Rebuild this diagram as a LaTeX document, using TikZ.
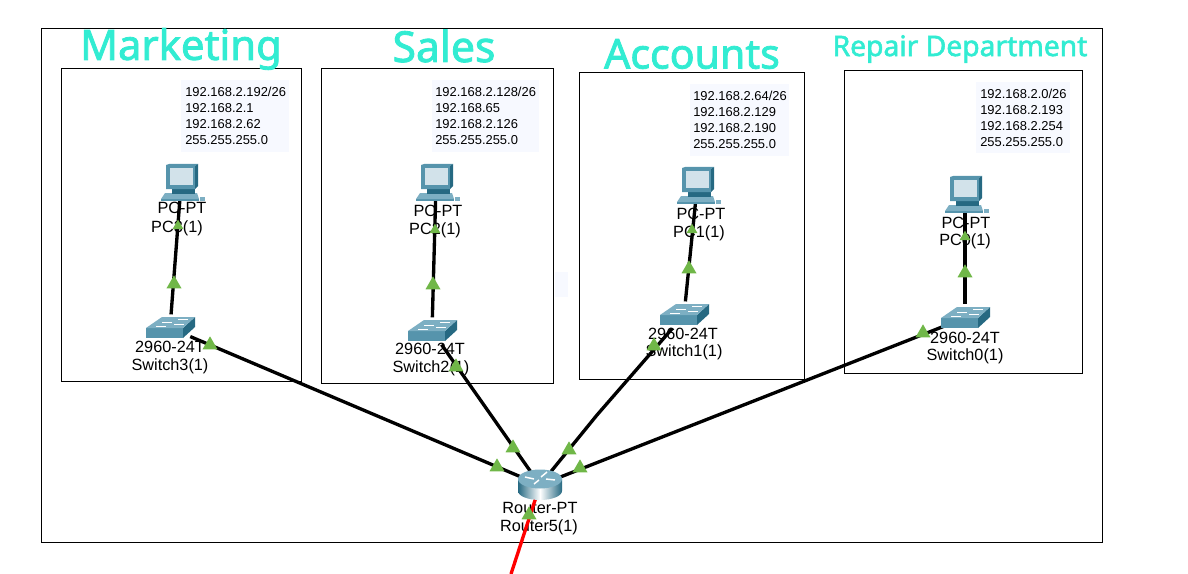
\documentclass[tikz,border=0pt]{standalone}
\usepackage{fontspec}
\setmainfont{Liberation Sans}
\newfontfamily\titlefont[FakeBold=2]{Noto Sans}
\usetikzlibrary{shapes.geometric}
\definecolor{aquatitle}{RGB}{50, 236, 210}
\definecolor{infopale}{RGB}{247, 249, 255}
\definecolor{linkgreen}{RGB}{112, 183, 72}
\definecolor{devteal}{RGB}{86, 148, 172}
\definecolor{devdark}{RGB}{38, 105, 130}
\definecolor{devlight}{RGB}{210, 226, 234}
\definecolor{devmid}{RGB}{125, 175, 195}
\tikzset{
    x=0.75pt, y=-0.75pt,
    roombox/.style   = {draw=black, line width=0.75pt},
    infobox/.style   = {fill=infopale, draw=none},
    infotext/.style  = {font=\fontsize{9.7pt}{12pt}\selectfont, align=left, anchor=north west, inner sep=0pt, yshift=-1.5pt},
    devlabel/.style  = {font=\fontsize{12.2pt}{12pt}\selectfont, inner sep=0pt, yshift=-1pt},
    roomtitle/.style = {text=aquatitle, inner sep=0pt, yshift=-3pt},
    devspot/.style   = {inner sep=0pt, minimum width=30pt, minimum height=20pt},
    linkline/.style  = {black, line width=2.5pt},
    wanline/.style   = {red, line width=2.5pt},
    linkmark/.style  = {regular polygon, regular polygon sides=3, fill=linkgreen, inner sep=0pt, minimum size=13pt},
    pcmark/.style    = {linkmark, minimum size=9.5pt},
    pcicon/.pic = {
        \fill[devmid]   (-16,  8) -- (16,  8) -- (18, 14) -- (-20, 14) -- cycle;
        \fill[devteal]  (-20, 14) rectangle (18, 16);
        \fill[devmid]   (19, 12) rectangle (24, 16);
        \fill[devdark]  (-9,  4) rectangle (14, 9);
        \fill[devteal]  (-15,-20) -- (-12,-21) -- (17,-21) -- (14,-19) -- (14, 4) -- (-15, 4) -- cycle;
        \fill[devdark]  (14,-19) -- (17,-21) -- (17, 1) -- (14, 4) -- cycle;
        \fill[devlight] (-11,-17) rectangle (12, 0);
    },
    switchicon/.pic = {
        \fill[devdark]  (13, 0) -- (25,-11) -- (25,-1) -- (13, 10) -- cycle;
        \fill[devteal]  (-24, 0) rectangle (13, 10);
        \fill[devmid]   (-24, 0) -- (-8,-11) -- (25,-11) -- (13, 0) -- cycle;
        \draw[white, line width=0.6pt] (-8,-6) -- (2,-6) (8,-9) -- (18,-9) (-14,-2) -- (-4,-2) (4,-4) -- (14,-4);
    },
    routericon/.pic = {
        \shade[left color=devdark, right color=devdark, middle color=white]
            (-22,-6) -- (-22, 6) arc[start angle=180, end angle=0, x radius=22, y radius=9] -- (22,-6) -- cycle;
        \fill[devmid] (0,-6) ellipse (22 and 9.5);
        \draw[white, line width=1.1pt] (-15,-8) -- (-6,-6) (15,-5) -- (6,-6) (-6,-1) -- (-1,-5) (7,-13) -- (1,-8);
    },
}
\begin{document}
\begin{tikzpicture}
    \useasboundingbox (0,0) rectangle (1188,574);
    % rooms
    \draw[roombox] (  41, 29) rectangle (1102,542);
    \draw[roombox] (  61, 69) rectangle ( 301,381);
    \draw[roombox] ( 321, 69) rectangle ( 553,383);
    \draw[roombox] ( 579, 73) rectangle ( 804,379);
    \draw[roombox] ( 844, 71) rectangle (1082,373);
    \fill[infobox] ( 181, 80) rectangle ( 289,152);
    \fill[infobox] ( 432, 80) rectangle ( 539,152);
    \fill[infobox] ( 690, 84) rectangle ( 789,156);
    \fill[infobox] ( 976, 82) rectangle (1070,153);
    \fill[infobox] ( 555,272) rectangle ( 568,297);
    % titles
    \node[roomtitle, font=\titlefont\fontsize{31.3pt}{33pt}\selectfont] (titlemarketing) at (181,45) {Marketing};
    \node[roomtitle, font=\titlefont\fontsize{32pt}{33pt}\selectfont]   (titlesales)     at (444,42) {Sales};
    \node[roomtitle, font=\titlefont\fontsize{30.8pt}{33pt}\selectfont] (titleaccounts)  at (692,50) {Accounts};
    \node[roomtitle, font=\titlefont\fontsize{21.2pt}{22pt}\selectfont] (titlerepair)    at (960,45) {Repair Department};
    % addressing
    \node[infotext] (infomarketing) at (185, 85) {192.168.2.192/26\\192.168.2.1\\192.168.2.62\\255.255.255.0};
    \node[infotext] (infosales)     at (435, 85) {192.168.2.128/26\\192.168.65\\192.168.2.126\\255.255.255.0};
    \node[infotext] (infoaccounts)  at (693, 89) {192.168.2.64/26\\192.168.2.129\\192.168.2.190\\255.255.255.0};
    \node[infotext] (inforepair)    at (980, 87) {192.168.2.0/26\\192.168.2.193\\192.168.2.254\\255.255.255.0};
    % device labels
    \node[devlabel] (typepcthree)     at (182,207) {PC-PT};
    \node[devlabel] (namepcthree)     at (177,227) {PC3(1)};
    \node[devlabel] (typepctwo)       at (438,210) {PC-PT};
    \node[devlabel] (namepctwo)       at (435,229) {PC2(1)};
    \node[devlabel] (typepcone)       at (701,213) {PC-PT};
    \node[devlabel] (namepcone)       at (699,232) {PC1(1)};
    \node[devlabel] (typepczero)      at (966,222) {PC-PT};
    \node[devlabel] (namepczero)      at (965,240) {PC0(1)};
    \node[devlabel] (typeswitchthree) at (170,346) {2960-24T};
    \node[devlabel] (nameswitchthree) at (170,365) {Switch3(1)};
    \node[devlabel] (typeswitchtwo)   at (430,348) {2960-24T};
    \node[devlabel] (nameswitchtwo)   at (431,367) {Switch2(1)};
    \node[devlabel] (typeswitchone)   at (683,333) {2960-24T};
    \node[devlabel] (nameswitchone)   at (684,351) {Switch1(1)};
    \node[devlabel] (typeswitchzero)  at (965,337) {2960-24T};
    \node[devlabel] (nameswitchzero)  at (965,355) {Switch0(1)};
    \node[devlabel] (typerouter)      at (540,507) {Router-PT};
    \node[devlabel] (namerouter)      at (539,526) {Router5(1)};
    % device spots
    \node[devspot] (pcthree)     at (181,185) {};
    \node[devspot] (pctwo)       at (436,185) {};
    \node[devspot] (pcone)       at (697,188) {};
    \node[devspot] (pczero)      at (965,197) {};
    \node[devspot] (switchthree) at (170,328) {};
    \node[devspot] (switchtwo)   at (432,331) {};
    \node[devspot] (switchone)   at (684,315) {};
    \node[devspot] (switchzero)  at (965,318) {};
    \node[devspot] (router)      at (540,485) {};
    \coordinate (wanend)  at (511,574);
    \coordinate (oneknee) at (597,415);
    % links
    \draw[linkline] (pcthree)     -- (switchthree);
    \draw[linkline] (pctwo)       -- (switchtwo);
    \draw[linkline] (pcone)       -- (switchone);
    \draw[linkline] (pczero)      -- (switchzero);
    \draw[linkline] (switchthree) -- (router);
    \draw[linkline] (switchtwo)   -- (router);
    \draw[linkline] (switchone)   -- (oneknee) -- (router);
    \draw[linkline] (switchzero)  -- (router);
    \draw[wanline]  (router)      -- (wanend);
    % devices
    \pic at (pcthree)     {pcicon};
    \pic at (pctwo)       {pcicon};
    \pic at (pcone)       {pcicon};
    \pic at (pczero)      {pcicon};
    \pic at (switchthree) {switchicon};
    \pic at (switchtwo)   {switchicon};
    \pic at (switchone)   {switchicon};
    \pic at (switchzero)  {switchicon};
    \pic at (router)      {routericon};
    % link lights
    \foreach \px/\py/\lname in {178/226/la, 435/230/le, 692/230/li, 965/237/lm}
        \node[pcmark] (\lname) at (\px,\py) {};
    \foreach \px/\py/\lname in {174/284/lb, 210/345/lc, 497/467/ld, 433/285/lf,
                                456/367/lg, 513/448/lh, 689/269/lj, 654/346/lk, 569/450/ll,
                                965/273/ln, 923/333/lo, 580/468/lp, 529/515/lq}
        \node[linkmark] (\lname) at (\px,\py) {};
\end{tikzpicture}
\end{document}
